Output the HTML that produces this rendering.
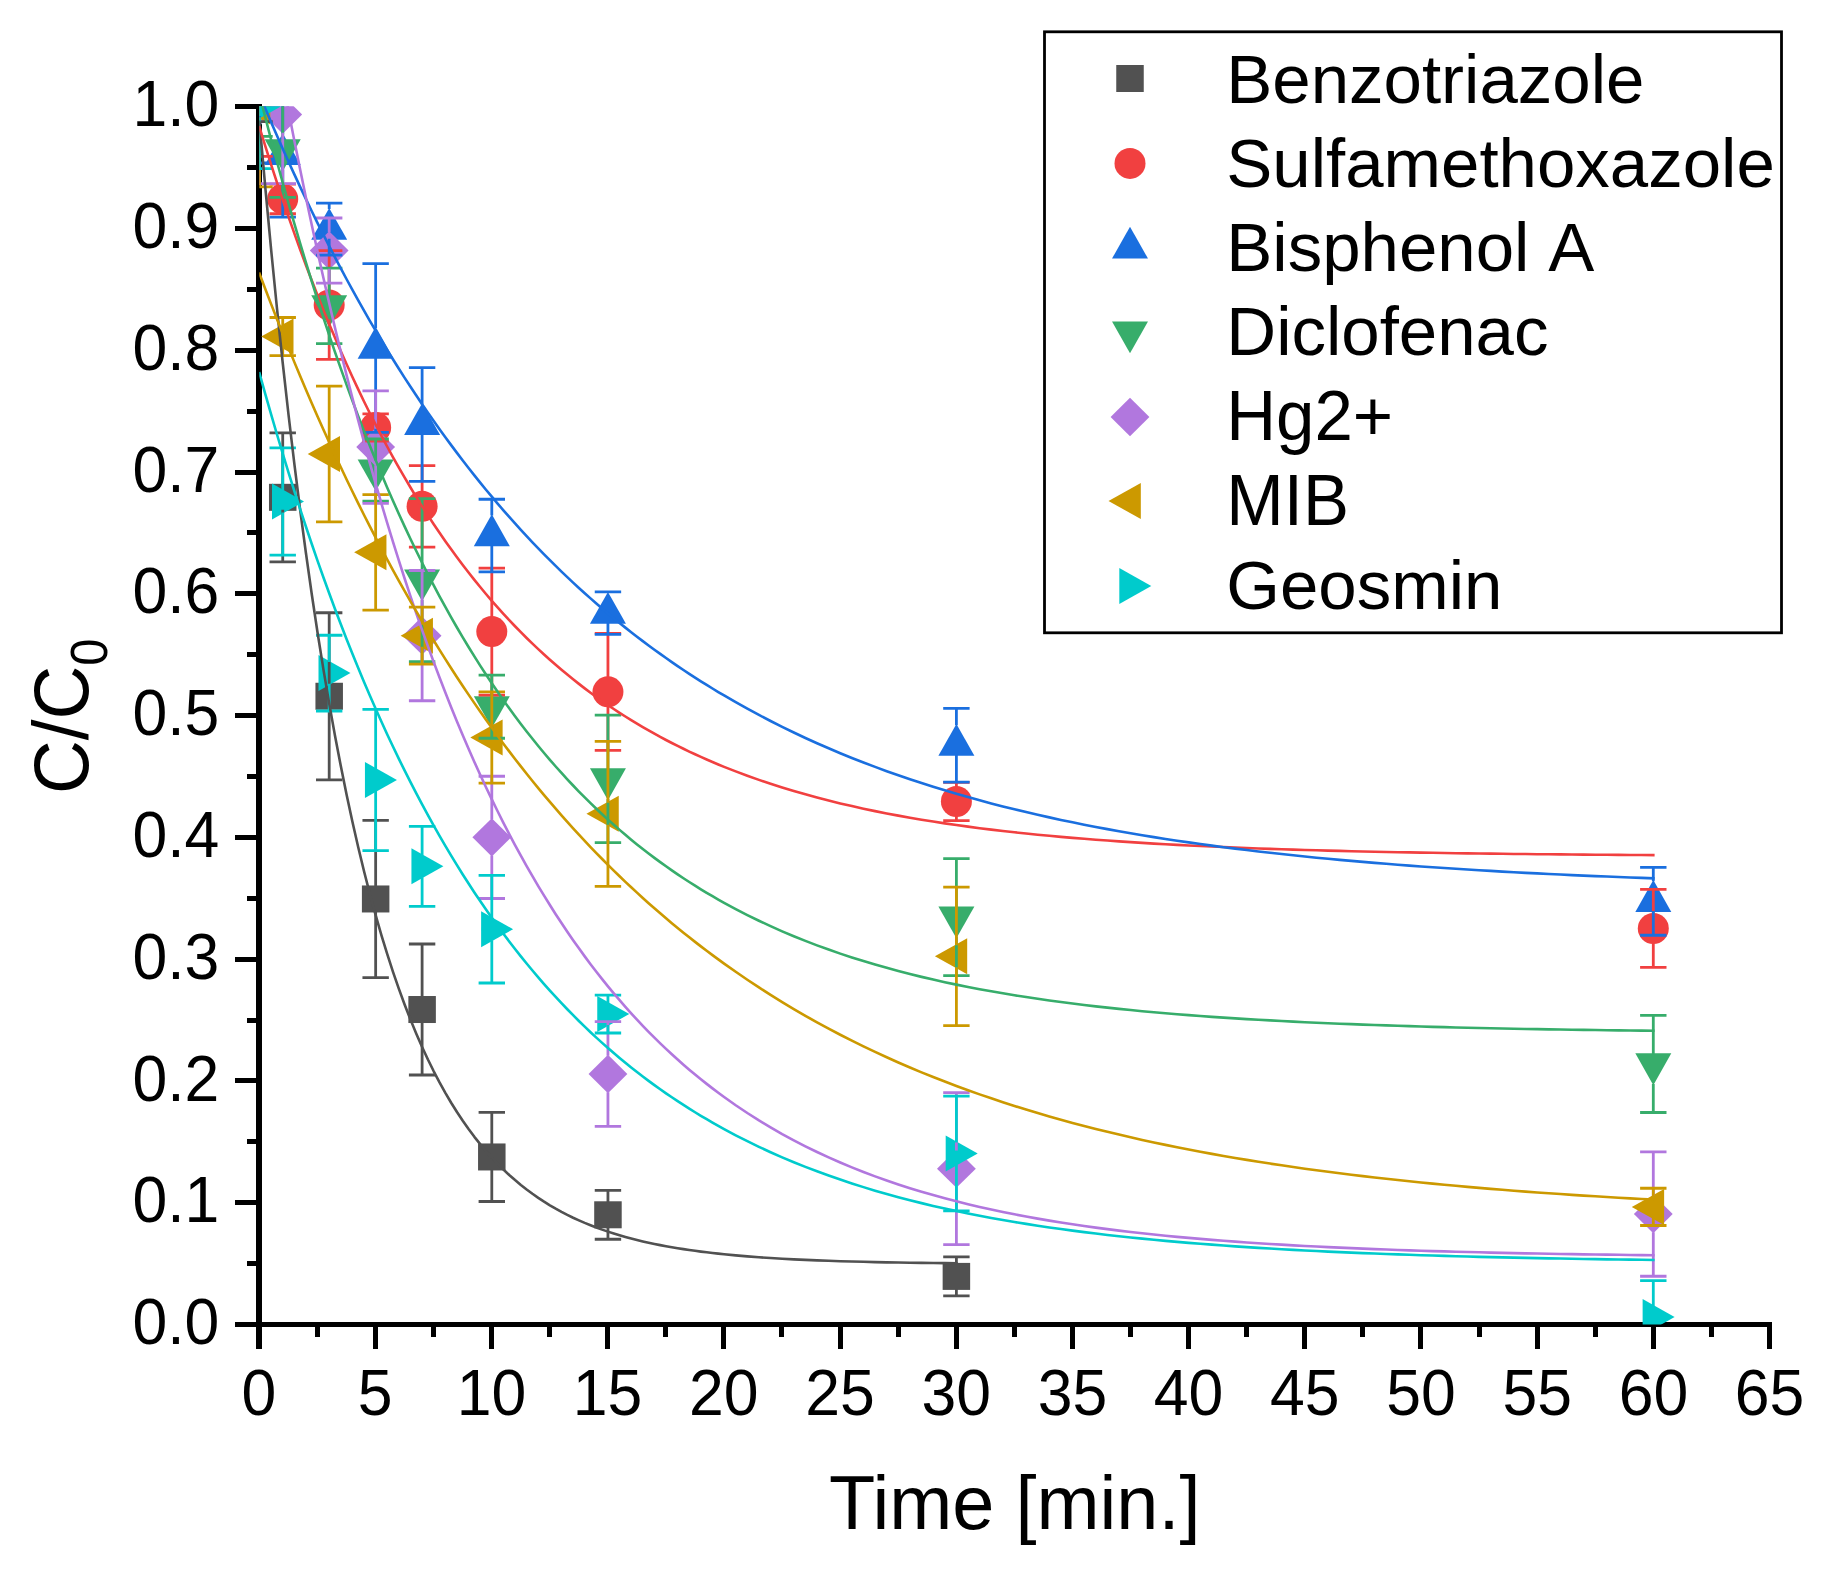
<!DOCTYPE html>
<html><head><meta charset="utf-8"><title>C/C0 vs Time</title>
<style>html,body{margin:0;padding:0;background:#fff}svg{display:block}text{font-family:"Liberation Sans",Arial,sans-serif;fill:#000}</style>
</head><body>
<svg width="1829" height="1571" viewBox="0 0 1829 1571">
<rect width="1829" height="1571" fill="#fff"/>
<defs><clipPath id="pc"><rect x="259.3" y="106.3" width="1512.7" height="1218.3"/></clipPath></defs>

<g fill="#000" shape-rendering="crispEdges">
<rect x="256" y="104" width="6" height="1245"/>
<rect x="235" y="1322" width="1537" height="5"/>
<rect x="373" y="1322" width="5" height="27"/>
<rect x="489" y="1322" width="5" height="27"/>
<rect x="605" y="1322" width="5" height="27"/>
<rect x="721" y="1322" width="5" height="27"/>
<rect x="838" y="1322" width="5" height="27"/>
<rect x="954" y="1322" width="5" height="27"/>
<rect x="1070" y="1322" width="5" height="27"/>
<rect x="1186" y="1322" width="5" height="27"/>
<rect x="1302" y="1322" width="5" height="27"/>
<rect x="1418" y="1322" width="5" height="27"/>
<rect x="1535" y="1322" width="5" height="27"/>
<rect x="1651" y="1322" width="5" height="27"/>
<rect x="1767" y="1322" width="5" height="27"/>
<rect x="315" y="1322" width="5" height="15"/>
<rect x="431" y="1322" width="5" height="15"/>
<rect x="547" y="1322" width="5" height="15"/>
<rect x="663" y="1322" width="5" height="15"/>
<rect x="779" y="1322" width="5" height="15"/>
<rect x="896" y="1322" width="5" height="15"/>
<rect x="1012" y="1322" width="5" height="15"/>
<rect x="1128" y="1322" width="5" height="15"/>
<rect x="1244" y="1322" width="5" height="15"/>
<rect x="1360" y="1322" width="5" height="15"/>
<rect x="1477" y="1322" width="5" height="15"/>
<rect x="1593" y="1322" width="5" height="15"/>
<rect x="1709" y="1322" width="5" height="15"/>
<rect x="235" y="1200" width="24" height="5"/>
<rect x="235" y="1078" width="24" height="5"/>
<rect x="235" y="957" width="24" height="5"/>
<rect x="235" y="835" width="24" height="5"/>
<rect x="235" y="713" width="24" height="5"/>
<rect x="235" y="591" width="24" height="5"/>
<rect x="235" y="470" width="24" height="5"/>
<rect x="235" y="348" width="24" height="5"/>
<rect x="235" y="226" width="24" height="5"/>
<rect x="235" y="104" width="24" height="5"/>
<rect x="247" y="1261" width="12" height="5"/>
<rect x="247" y="1139" width="12" height="5"/>
<rect x="247" y="1018" width="12" height="5"/>
<rect x="247" y="896" width="12" height="5"/>
<rect x="247" y="774" width="12" height="5"/>
<rect x="247" y="652" width="12" height="5"/>
<rect x="247" y="530" width="12" height="5"/>
<rect x="247" y="409" width="12" height="5"/>
<rect x="247" y="287" width="12" height="5"/>
<rect x="247" y="165" width="12" height="5"/>
</g>
<g clip-path="url(#pc)">
<rect x="245.75" y="93" width="27.5" height="27" fill="#515151"/>
<rect x="268.98" y="483.82" width="27.5" height="27" fill="#515151"/>
<rect x="315.44" y="682.76" width="27.5" height="27" fill="#515151"/>
<rect x="361.9" y="885.47" width="27.5" height="27" fill="#515151"/>
<rect x="408.36" y="996.02" width="27.5" height="27" fill="#515151"/>
<rect x="478.05" y="1143.46" width="27.5" height="27" fill="#515151"/>
<rect x="594.2" y="1201.29" width="27.5" height="27" fill="#515151"/>
<rect x="942.65" y="1262.9" width="27.5" height="27" fill="#515151"/>
<circle cx="259.5" cy="106.5" r="15.5" fill="#F14040"/>
<circle cx="282.73" cy="198.91" r="15.5" fill="#F14040"/>
<circle cx="329.19" cy="304.95" r="15.5" fill="#F14040"/>
<circle cx="375.65" cy="427.55" r="15.5" fill="#F14040"/>
<circle cx="422.11" cy="506.33" r="15.5" fill="#F14040"/>
<circle cx="491.8" cy="631.61" r="15.5" fill="#F14040"/>
<circle cx="607.95" cy="691.87" r="15.5" fill="#F14040"/>
<circle cx="956.4" cy="801.57" r="15.5" fill="#F14040"/>
<circle cx="1653.3" cy="928.43" r="15.5" fill="#F14040"/>
<polygon points="241.5,117.1 277.5,117.1 259.5,85.3" fill="#1A6FDF"/>
<polygon points="264.73,164.95 300.73,164.95 282.73,133.15" fill="#1A6FDF"/>
<polygon points="311.19,239.7 347.19,239.7 329.19,207.9" fill="#1A6FDF"/>
<polygon points="357.65,358.65 393.65,358.65 375.65,326.85" fill="#1A6FDF"/>
<polygon points="404.11,435.11 440.11,435.11 422.11,403.31" fill="#1A6FDF"/>
<polygon points="473.8,546.15 509.8,546.15 491.8,514.35" fill="#1A6FDF"/>
<polygon points="589.95,623.7 625.95,623.7 607.95,591.9" fill="#1A6FDF"/>
<polygon points="938.4,755.8 974.4,755.8 956.4,724" fill="#1A6FDF"/>
<polygon points="1635.3,911.88 1671.3,911.88 1653.3,880.08" fill="#1A6FDF"/>
<polygon points="241.5,95.9 277.5,95.9 259.5,127.7" fill="#37AD6B"/>
<polygon points="264.73,139.36 300.73,139.36 282.73,171.16" fill="#37AD6B"/>
<polygon points="311.19,295.33 347.19,295.33 329.19,327.13" fill="#37AD6B"/>
<polygon points="357.65,459.45 393.65,459.45 375.65,491.25" fill="#37AD6B"/>
<polygon points="404.11,569.51 440.11,569.51 422.11,601.31" fill="#37AD6B"/>
<polygon points="473.8,696.13 509.8,696.13 491.8,727.93" fill="#37AD6B"/>
<polygon points="589.95,768.33 625.95,768.33 607.95,800.13" fill="#37AD6B"/>
<polygon points="938.4,906.51 974.4,906.51 956.4,938.31" fill="#37AD6B"/>
<polygon points="1635.3,1053.34 1671.3,1053.34 1653.3,1085.14" fill="#37AD6B"/>
<polygon points="240.1,106.5 259.5,87.3 278.9,106.5 259.5,125.7" fill="#B177DE"/>
<polygon points="263.33,114.54 282.73,95.34 302.13,114.54 282.73,133.74" fill="#B177DE"/>
<polygon points="309.79,250.53 329.19,231.33 348.59,250.53 329.19,269.73" fill="#B177DE"/>
<polygon points="356.25,447.03 375.65,427.83 395.05,447.03 375.65,466.23" fill="#B177DE"/>
<polygon points="402.71,635.63 422.11,616.43 441.51,635.63 422.11,654.83" fill="#B177DE"/>
<polygon points="472.4,837.37 491.8,818.17 511.2,837.37 491.8,856.57" fill="#B177DE"/>
<polygon points="588.55,1074.05 607.95,1054.85 627.35,1074.05 607.95,1093.25" fill="#B177DE"/>
<polygon points="937,1168.65 956.4,1149.45 975.8,1168.65 956.4,1187.85" fill="#B177DE"/>
<polygon points="1633.9,1214.06 1653.3,1194.86 1672.7,1214.06 1653.3,1233.26" fill="#B177DE"/>
<polygon points="238,106.5 270.3,88.5 270.3,124.5" fill="#CC9900"/>
<polygon points="261.23,336.61 293.53,318.61 293.53,354.61" fill="#CC9900"/>
<polygon points="307.69,453.97 339.99,435.97 339.99,471.97" fill="#CC9900"/>
<polygon points="354.15,552.35 386.45,534.35 386.45,570.35" fill="#CC9900"/>
<polygon points="400.61,635.63 432.91,617.63 432.91,653.63" fill="#CC9900"/>
<polygon points="470.3,737.53 502.6,719.53 502.6,755.53" fill="#CC9900"/>
<polygon points="586.45,813.87 618.75,795.87 618.75,831.87" fill="#CC9900"/>
<polygon points="934.9,956.32 967.2,938.32 967.2,974.32" fill="#CC9900"/>
<polygon points="1631.8,1206.88 1664.1,1188.88 1664.1,1224.88" fill="#CC9900"/>
<polygon points="280.8,106.5 248.8,88.5 248.8,124.5" fill="#00CBCC"/>
<polygon points="304.03,501.46 272.03,483.46 272.03,519.46" fill="#00CBCC"/>
<polygon points="350.49,673.12 318.49,655.12 318.49,691.12" fill="#00CBCC"/>
<polygon points="396.95,780.02 364.95,762.02 364.95,798.02" fill="#00CBCC"/>
<polygon points="443.41,866.34 411.41,848.34 411.41,884.34" fill="#00CBCC"/>
<polygon points="513.1,929.16 481.1,911.16 481.1,947.16" fill="#00CBCC"/>
<polygon points="629.25,1014.02 597.25,996.02 597.25,1032.02" fill="#00CBCC"/>
<polygon points="977.7,1153.55 945.7,1135.55 945.7,1171.55" fill="#00CBCC"/>
<polygon points="1674.6,1317.06 1642.6,1299.06 1642.6,1335.06" fill="#00CBCC"/>
<path d="M246.3 91.28H272.7M246.3 121.72H272.7M259.5 91.28V94M259.5 119V121.72M269.53 432.79H295.93M269.53 561.85H295.93M282.73 432.79V484.82M282.73 509.82V561.85M315.99 612.74H342.39M315.99 779.78H342.39M329.19 612.74V683.76M329.19 708.76V779.78M362.45 820.32H388.85M362.45 977.62H388.85M375.65 820.32V886.47M375.65 911.47V977.62M408.91 944.02H435.31M408.91 1075.02H435.31M422.11 944.02V997.02M422.11 1022.02V1075.02M478.6 1112.4H505M478.6 1201.52H505M491.8 1112.4V1144.46M491.8 1169.46V1201.52M594.75 1190.32H621.15M594.75 1239.26H621.15M607.95 1190.32V1202.29M607.95 1227.29V1239.26M943.2 1256.92H969.6M943.2 1295.88H969.6M956.4 1256.92V1263.9M956.4 1288.9V1295.88" stroke="#515151" stroke-width="2.8" fill="none"/>
<path d="M246.3 56.58H272.7M246.3 156.42H272.7M259.5 56.58V92M259.5 121V156.42M269.53 184.05H295.93M269.53 213.76H295.93M282.73 184.05V184.41M282.73 213.41V213.76M315.99 250.53H342.39M315.99 359.37H342.39M329.19 250.53V290.45M329.19 319.45V359.37M362.45 413.92H388.85M362.45 441.19H388.85M408.91 465.54H435.31M408.91 547.11H435.31M422.11 465.54V491.83M422.11 520.83V547.11M478.6 568.18H505M478.6 695.04H505M491.8 568.18V617.11M491.8 646.11V695.04M594.75 633.43H621.15M594.75 750.31H621.15M607.95 633.43V677.37M607.95 706.37V750.31M943.2 782.46H969.6M943.2 820.69H969.6M956.4 782.46V787.07M956.4 816.07V820.69M1640.1 889.47H1666.5M1640.1 967.39H1666.5M1653.3 889.47V913.93M1653.3 942.93V967.39" stroke="#F14040" stroke-width="2.8" fill="none"/>
<path d="M246.3 50.01H272.7M246.3 162.99H272.7M259.5 50.01V86.5M259.5 116.1V162.99M269.53 91.65H295.93M269.53 217.05H295.93M282.73 91.65V134.35M282.73 163.95V217.05M315.99 203.17H342.39M315.99 255.03H342.39M329.19 203.17V209.1M329.19 238.7V255.03M362.45 263.68H388.85M362.45 432.42H388.85M375.65 263.68V328.05M375.65 357.65V432.42M408.91 367.65H435.31M408.91 481.37H435.31M422.11 367.65V404.51M422.11 434.11V481.37M478.6 499.27H505M478.6 571.83H505M491.8 499.27V515.55M491.8 545.15V571.83M594.75 591.8H621.15M594.75 634.41H621.15M607.95 591.8V593.1M607.95 622.7V634.41M943.2 708.31H969.6M943.2 782.09H969.6M956.4 708.31V725.2M956.4 754.8V782.09M1640.1 867.32H1666.5M1640.1 935.25H1666.5M1653.3 867.32V881.28M1653.3 910.88V935.25" stroke="#1A6FDF" stroke-width="2.8" fill="none"/>
<path d="M246.3 76.67H272.7M246.3 136.33H272.7M259.5 76.67V96.9M259.5 126.5V136.33M269.53 102.48H295.93M269.53 197.45H295.93M282.73 102.48V140.36M282.73 169.96V197.45M315.99 268.18H342.39M315.99 343.67H342.39M329.19 268.18V296.33M329.19 325.93V343.67M362.45 439H388.85M362.45 501.09H388.85M375.65 439V460.45M375.65 490.05V501.09M408.91 498.66H435.31M408.91 661.56H435.31M422.11 498.66V570.51M422.11 600.11V661.56M478.6 675.19H505M478.6 738.26H505M491.8 675.19V697.13M491.8 726.73V738.26M594.75 715.13H621.15M594.75 842.72H621.15M607.95 715.13V769.33M607.95 798.93V842.72M943.2 858.67H969.6M943.2 975.55H969.6M956.4 858.67V907.51M956.4 937.11V975.55M1640.1 1015.36H1666.5M1640.1 1112.52H1666.5M1653.3 1015.36V1054.34M1653.3 1083.94V1112.52" stroke="#37AD6B" stroke-width="2.8" fill="none"/>
<path d="M246.3 29.31H272.7M246.3 183.69H272.7M259.5 29.31V88.3M259.5 124.7V183.69M269.53 45.5H295.93M269.53 183.57H295.93M282.73 45.5V96.34M282.73 132.74V183.57M315.99 218.02H342.39M315.99 283.04H342.39M329.19 218.02V232.33M329.19 268.73V283.04M362.45 390.79H388.85M362.45 503.28H388.85M375.65 390.79V428.83M375.65 465.23V503.28M408.91 570.49H435.31M408.91 700.76H435.31M422.11 570.49V617.43M422.11 653.83V700.76M478.6 776.25H505M478.6 898.48H505M491.8 776.25V819.17M491.8 855.57V898.48M594.75 1021.69H621.15M594.75 1126.4H621.15M607.95 1021.69V1055.85M607.95 1092.25V1126.4M943.2 1092.67H969.6M943.2 1244.62H969.6M956.4 1092.67V1150.45M956.4 1186.85V1244.62M1640.1 1151.85H1666.5M1640.1 1276.27H1666.5M1653.3 1151.85V1195.86M1653.3 1232.26V1276.27" stroke="#B177DE" stroke-width="2.8" fill="none"/>
<path d="M246.3 26.14H272.7M246.3 186.86H272.7M259.5 26.14V95.5M259.5 117.5V186.86M269.53 317.49H295.93M269.53 355.72H295.93M282.73 317.49V325.61M282.73 347.61V355.72M315.99 386.04H342.39M315.99 521.91H342.39M329.19 386.04V442.97M329.19 464.97V521.91M362.45 494.64H388.85M362.45 610.06H388.85M375.65 494.64V541.35M375.65 563.35V610.06M408.91 607.14H435.31M408.91 664.12H435.31M422.11 607.14V624.63M422.11 646.63V664.12M478.6 691.87H505M478.6 783.19H505M491.8 691.87V726.53M491.8 748.53V783.19M594.75 741.3H621.15M594.75 886.43H621.15M607.95 741.3V802.87M607.95 824.87V886.43M943.2 887.04H969.6M943.2 1025.59H969.6M956.4 887.04V945.32M956.4 967.32V1025.59M1640.1 1188.25H1666.5M1640.1 1225.5H1666.5M1653.3 1188.25V1195.88M1653.3 1217.88V1225.5" stroke="#CC9900" stroke-width="2.8" fill="none"/>
<path d="M246.3 44.41H272.7M246.3 168.59H272.7M259.5 44.41V95.5M259.5 117.5V168.59M269.53 447.89H295.93M269.53 555.03H295.93M282.73 447.89V490.46M282.73 512.46V555.03M315.99 635.26H342.39M315.99 710.99H342.39M329.19 635.26V662.12M329.19 684.12V710.99M362.45 709.41H388.85M362.45 850.64H388.85M375.65 709.41V769.02M375.65 791.02V850.64M408.91 826.41H435.31M408.91 906.28H435.31M422.11 826.41V855.34M422.11 877.34V906.28M478.6 875.35H505M478.6 982.98H505M491.8 875.35V918.16M491.8 940.16V982.98M594.75 995.03H621.15M594.75 1033.02H621.15M607.95 995.03V1003.02M607.95 1025.02V1033.02M943.2 1096.21H969.6M943.2 1210.89H969.6M956.4 1096.21V1142.55M956.4 1164.55V1210.89M1640.1 1280.54H1666.5M1640.1 1353.59H1666.5M1653.3 1280.54V1306.06M1653.3 1328.06V1353.59" stroke="#00CBCC" stroke-width="2.8" fill="none"/>
<path d="M259.5 121.84 L265.31 187.6 L271.12 249.57 L276.92 307.97 L282.73 363.01 L288.54 414.89 L294.35 463.78 L300.15 509.85 L305.96 553.27 L311.77 594.2 L317.57 632.76 L323.38 669.11 L329.19 703.37 L335 735.65 L340.81 766.07 L346.61 794.75 L352.42 821.77 L358.23 847.24 L364.03 871.24 L369.84 893.86 L375.65 915.18 L381.46 935.27 L387.26 954.2 L393.07 972.05 L398.88 988.87 L404.69 1004.72 L410.5 1019.65 L416.3 1033.73 L422.11 1047 L427.92 1059.5 L433.73 1071.29 L439.53 1082.39 L445.34 1092.86 L451.15 1102.72 L456.96 1112.02 L462.76 1120.78 L468.57 1129.03 L474.38 1136.82 L480.19 1144.15 L485.99 1151.06 L491.8 1157.57 L497.61 1163.71 L503.41 1169.5 L509.22 1174.95 L515.03 1180.09 L520.84 1184.93 L526.64 1189.5 L532.45 1193.8 L538.26 1197.85 L544.07 1201.67 L549.88 1205.27 L555.68 1208.66 L561.49 1211.86 L567.3 1214.88 L573.11 1217.72 L578.91 1220.39 L584.72 1222.92 L590.53 1225.29 L596.34 1227.53 L602.14 1229.65 L607.95 1231.64 L613.76 1233.51 L619.57 1235.28 L625.37 1236.95 L631.18 1238.52 L636.99 1239.99 L642.8 1241.39 L648.6 1242.7 L654.41 1243.94 L660.22 1245.11 L666.03 1246.21 L671.83 1247.25 L677.64 1248.22 L683.45 1249.14 L689.25 1250.01 L695.06 1250.83 L700.87 1251.6 L706.68 1252.33 L712.49 1253.01 L718.29 1253.66 L724.1 1254.26 L735.72 1255.38 L747.33 1256.37 L758.94 1257.24 L770.56 1258.02 L782.17 1258.72 L793.79 1259.33 L805.4 1259.88 L817.02 1260.36 L828.63 1260.8 L840.25 1261.18 L851.87 1261.52 L863.48 1261.82 L875.1 1262.09 L886.71 1262.33 L898.33 1262.54 L909.94 1262.73 L921.56 1262.89 L933.17 1263.04 L944.78 1263.17 L956.4 1263.29" stroke="#515151" stroke-width="2.6" fill="none" stroke-linejoin="round" stroke-linecap="square"/>
<path d="M259.5 127.32 L265.31 146.18 L271.12 164.54 L276.92 182.44 L282.73 199.87 L288.54 216.85 L294.35 233.39 L300.15 249.5 L305.96 265.2 L311.77 280.49 L317.57 295.38 L323.38 309.89 L329.19 324.03 L335 337.8 L340.81 351.21 L346.61 364.28 L352.42 377 L358.23 389.4 L364.03 401.48 L369.84 413.25 L375.65 424.71 L381.46 435.87 L387.26 446.75 L393.07 457.35 L398.88 467.67 L404.69 477.72 L410.5 487.52 L416.3 497.06 L422.11 506.35 L427.92 515.41 L433.73 524.23 L439.53 532.82 L445.34 541.19 L451.15 549.34 L456.96 557.28 L462.76 565.02 L468.57 572.56 L474.38 579.9 L480.19 587.05 L485.99 594.02 L491.8 600.81 L497.61 607.42 L503.41 613.86 L509.22 620.13 L515.03 626.25 L520.84 632.2 L526.64 638 L532.45 643.65 L538.26 649.15 L544.07 654.51 L549.88 659.74 L555.68 664.83 L561.49 669.78 L567.3 674.61 L573.11 679.31 L578.91 683.89 L584.72 688.36 L590.53 692.7 L596.34 696.94 L602.14 701.07 L607.95 705.08 L613.76 709 L619.57 712.81 L625.37 716.53 L631.18 720.15 L636.99 723.67 L642.8 727.11 L648.6 730.45 L654.41 733.71 L660.22 736.89 L666.03 739.98 L671.83 742.99 L677.64 745.93 L683.45 748.79 L689.25 751.57 L695.06 754.28 L700.87 756.93 L706.68 759.5 L712.49 762.01 L718.29 764.45 L724.1 766.83 L735.72 771.41 L747.33 775.75 L758.94 779.87 L770.56 783.78 L782.17 787.49 L793.79 791.02 L805.4 794.36 L817.02 797.53 L828.63 800.54 L840.25 803.39 L851.87 806.1 L863.48 808.68 L875.1 811.12 L886.71 813.43 L898.33 815.63 L909.94 817.72 L921.56 819.69 L933.17 821.57 L944.78 823.35 L956.4 825.05 L968.01 826.65 L979.63 828.17 L991.25 829.62 L1002.86 830.99 L1014.48 832.29 L1026.09 833.53 L1037.7 834.7 L1049.32 835.81 L1060.93 836.86 L1072.55 837.87 L1084.16 838.82 L1095.78 839.72 L1107.39 840.57 L1119.01 841.39 L1130.62 842.16 L1142.24 842.89 L1153.86 843.58 L1165.47 844.24 L1177.09 844.86 L1188.7 845.46 L1200.32 846.02 L1211.93 846.55 L1223.55 847.06 L1235.16 847.54 L1246.78 848 L1258.39 848.43 L1270.01 848.84 L1281.62 849.23 L1293.24 849.6 L1304.85 849.95 L1316.46 850.29 L1328.08 850.6 L1339.69 850.9 L1351.31 851.19 L1362.92 851.46 L1374.54 851.71 L1386.15 851.96 L1397.77 852.19 L1409.38 852.41 L1421 852.62 L1432.62 852.81 L1444.23 853 L1455.85 853.18 L1467.46 853.35 L1479.08 853.51 L1490.69 853.66 L1502.31 853.8 L1513.92 853.94 L1525.54 854.07 L1537.15 854.19 L1548.77 854.31 L1560.38 854.42 L1572 854.52 L1583.61 854.62 L1595.23 854.72 L1606.84 854.81 L1618.45 854.89 L1630.07 854.98 L1641.68 855.05 L1653.3 855.12" stroke="#F14040" stroke-width="2.6" fill="none" stroke-linejoin="round" stroke-linecap="square"/>
<path d="M259.5 94.69 L265.31 108.57 L271.12 122.2 L276.92 135.6 L282.73 148.76 L288.54 161.7 L294.35 174.41 L300.15 186.89 L305.96 199.16 L311.77 211.22 L317.57 223.06 L323.38 234.7 L329.19 246.13 L335 257.37 L340.81 268.4 L346.61 279.25 L352.42 289.91 L358.23 300.38 L364.03 310.67 L369.84 320.78 L375.65 330.71 L381.46 340.47 L387.26 350.06 L393.07 359.48 L398.88 368.73 L404.69 377.83 L410.5 386.77 L416.3 395.55 L422.11 404.17 L427.92 412.65 L433.73 420.98 L439.53 429.16 L445.34 437.2 L451.15 445.11 L456.96 452.87 L462.76 460.5 L468.57 467.99 L474.38 475.35 L480.19 482.59 L485.99 489.7 L491.8 496.68 L497.61 503.54 L503.41 510.29 L509.22 516.91 L515.03 523.42 L520.84 529.82 L526.64 536.1 L532.45 542.28 L538.26 548.34 L544.07 554.31 L549.88 560.16 L555.68 565.92 L561.49 571.57 L567.3 577.13 L573.11 582.59 L578.91 587.95 L584.72 593.22 L590.53 598.4 L596.34 603.49 L602.14 608.49 L607.95 613.4 L613.76 618.22 L619.57 622.97 L625.37 627.62 L631.18 632.2 L636.99 636.7 L642.8 641.12 L648.6 645.46 L654.41 649.73 L660.22 653.92 L666.03 658.04 L671.83 662.09 L677.64 666.06 L683.45 669.97 L689.25 673.81 L695.06 677.58 L700.87 681.29 L706.68 684.93 L712.49 688.51 L718.29 692.02 L724.1 695.48 L735.72 702.2 L747.33 708.7 L758.94 714.97 L770.56 721.02 L782.17 726.87 L793.79 732.51 L805.4 737.96 L817.02 743.22 L828.63 748.29 L840.25 753.19 L851.87 757.93 L863.48 762.49 L875.1 766.9 L886.71 771.16 L898.33 775.27 L909.94 779.24 L921.56 783.07 L933.17 786.77 L944.78 790.34 L956.4 793.78 L968.01 797.11 L979.63 800.32 L991.25 803.42 L1002.86 806.42 L1014.48 809.31 L1026.09 812.1 L1037.7 814.79 L1049.32 817.39 L1060.93 819.9 L1072.55 822.33 L1084.16 824.67 L1095.78 826.93 L1107.39 829.11 L1119.01 831.21 L1130.62 833.24 L1142.24 835.21 L1153.86 837.1 L1165.47 838.93 L1177.09 840.69 L1188.7 842.4 L1200.32 844.04 L1211.93 845.63 L1223.55 847.17 L1235.16 848.65 L1246.78 850.08 L1258.39 851.46 L1270.01 852.79 L1281.62 854.07 L1293.24 855.32 L1304.85 856.51 L1316.46 857.67 L1328.08 858.79 L1339.69 859.87 L1351.31 860.91 L1362.92 861.91 L1374.54 862.88 L1386.15 863.82 L1397.77 864.72 L1409.38 865.6 L1421 866.44 L1432.62 867.25 L1444.23 868.04 L1455.85 868.8 L1467.46 869.53 L1479.08 870.24 L1490.69 870.92 L1502.31 871.58 L1513.92 872.21 L1525.54 872.83 L1537.15 873.42 L1548.77 873.99 L1560.38 874.55 L1572 875.08 L1583.61 875.59 L1595.23 876.09 L1606.84 876.57 L1618.45 877.03 L1630.07 877.48 L1641.68 877.91 L1653.3 878.33" stroke="#1A6FDF" stroke-width="2.6" fill="none" stroke-linejoin="round" stroke-linecap="square"/>
<path d="M259.5 94.57 L265.31 117.44 L271.12 139.76 L276.92 161.53 L282.73 182.77 L288.54 203.49 L294.35 223.71 L300.15 243.43 L305.96 262.68 L311.77 281.45 L317.57 299.77 L323.38 317.65 L329.19 335.08 L335 352.09 L340.81 368.69 L346.61 384.88 L352.42 400.68 L358.23 416.1 L364.03 431.13 L369.84 445.81 L375.65 460.12 L381.46 474.08 L387.26 487.71 L393.07 501 L398.88 513.97 L404.69 526.62 L410.5 538.97 L416.3 551.01 L422.11 562.76 L427.92 574.23 L433.73 585.41 L439.53 596.32 L445.34 606.97 L451.15 617.36 L456.96 627.49 L462.76 637.38 L468.57 647.02 L474.38 656.44 L480.19 665.62 L485.99 674.58 L491.8 683.31 L497.61 691.84 L503.41 700.16 L509.22 708.28 L515.03 716.2 L520.84 723.92 L526.64 731.46 L532.45 738.81 L538.26 745.99 L544.07 752.99 L549.88 759.82 L555.68 766.48 L561.49 772.98 L567.3 779.32 L573.11 785.51 L578.91 791.55 L584.72 797.43 L590.53 803.18 L596.34 808.79 L602.14 814.26 L607.95 819.59 L613.76 824.8 L619.57 829.88 L625.37 834.83 L631.18 839.67 L636.99 844.39 L642.8 848.99 L648.6 853.48 L654.41 857.86 L660.22 862.13 L666.03 866.3 L671.83 870.37 L677.64 874.34 L683.45 878.21 L689.25 881.99 L695.06 885.68 L700.87 889.27 L706.68 892.78 L712.49 896.2 L718.29 899.54 L724.1 902.8 L735.72 909.08 L747.33 915.06 L758.94 920.75 L770.56 926.16 L782.17 931.32 L793.79 936.23 L805.4 940.9 L817.02 945.34 L828.63 949.58 L840.25 953.61 L851.87 957.44 L863.48 961.09 L875.1 964.56 L886.71 967.87 L898.33 971.02 L909.94 974.01 L921.56 976.87 L933.17 979.58 L944.78 982.17 L956.4 984.63 L968.01 986.97 L979.63 989.19 L991.25 991.32 L1002.86 993.34 L1014.48 995.26 L1026.09 997.09 L1037.7 998.83 L1049.32 1000.49 L1060.93 1002.06 L1072.55 1003.57 L1084.16 1004.99 L1095.78 1006.36 L1107.39 1007.65 L1119.01 1008.88 L1130.62 1010.06 L1142.24 1011.17 L1153.86 1012.24 L1165.47 1013.25 L1177.09 1014.21 L1188.7 1015.13 L1200.32 1016 L1211.93 1016.83 L1223.55 1017.62 L1235.16 1018.38 L1246.78 1019.09 L1258.39 1019.78 L1270.01 1020.42 L1281.62 1021.04 L1293.24 1021.63 L1304.85 1022.19 L1316.46 1022.72 L1328.08 1023.23 L1339.69 1023.71 L1351.31 1024.17 L1362.92 1024.61 L1374.54 1025.03 L1386.15 1025.42 L1397.77 1025.8 L1409.38 1026.16 L1421 1026.5 L1432.62 1026.83 L1444.23 1027.14 L1455.85 1027.43 L1467.46 1027.71 L1479.08 1027.98 L1490.69 1028.23 L1502.31 1028.48 L1513.92 1028.71 L1525.54 1028.93 L1537.15 1029.13 L1548.77 1029.33 L1560.38 1029.52 L1572 1029.7 L1583.61 1029.87 L1595.23 1030.04 L1606.84 1030.19 L1618.45 1030.34 L1630.07 1030.48 L1641.68 1030.61 L1653.3 1030.74" stroke="#37AD6B" stroke-width="2.6" fill="none" stroke-linejoin="round" stroke-linecap="square"/>
<path d="M259.5 -49.58 L265.31 -15.77 L271.12 17.17 L276.92 49.26 L282.73 80.52 L288.54 110.96 L294.35 140.63 L300.15 169.52 L305.96 197.67 L311.77 225.09 L317.57 251.8 L323.38 277.81 L329.19 303.16 L335 327.85 L340.81 351.9 L346.61 375.33 L352.42 398.15 L358.23 420.39 L364.03 442.04 L369.84 463.14 L375.65 483.69 L381.46 503.71 L387.26 523.21 L393.07 542.21 L398.88 560.72 L404.69 578.75 L410.5 596.31 L416.3 613.41 L422.11 630.08 L427.92 646.31 L433.73 662.13 L439.53 677.53 L445.34 692.54 L451.15 707.15 L456.96 721.39 L462.76 735.26 L468.57 748.78 L474.38 761.94 L480.19 774.76 L485.99 787.25 L491.8 799.42 L497.61 811.27 L503.41 822.82 L509.22 834.07 L515.03 845.03 L520.84 855.7 L526.64 866.1 L532.45 876.22 L538.26 886.09 L544.07 895.7 L549.88 905.06 L555.68 914.18 L561.49 923.07 L567.3 931.72 L573.11 940.15 L578.91 948.37 L584.72 956.37 L590.53 964.16 L596.34 971.75 L602.14 979.15 L607.95 986.35 L613.76 993.37 L619.57 1000.21 L625.37 1006.86 L631.18 1013.35 L636.99 1019.67 L642.8 1025.83 L648.6 1031.82 L654.41 1037.66 L660.22 1043.35 L666.03 1048.9 L671.83 1054.3 L677.64 1059.56 L683.45 1064.68 L689.25 1069.67 L695.06 1074.54 L700.87 1079.27 L706.68 1083.89 L712.49 1088.38 L718.29 1092.76 L724.1 1097.02 L735.72 1105.23 L747.33 1113.01 L758.94 1120.4 L770.56 1127.4 L782.17 1134.06 L793.79 1140.37 L805.4 1146.36 L817.02 1152.04 L828.63 1157.43 L840.25 1162.55 L851.87 1167.41 L863.48 1172.01 L875.1 1176.39 L886.71 1180.54 L898.33 1184.47 L909.94 1188.21 L921.56 1191.76 L933.17 1195.12 L944.78 1198.31 L956.4 1201.34 L968.01 1204.22 L979.63 1206.95 L991.25 1209.54 L1002.86 1211.99 L1014.48 1214.32 L1026.09 1216.54 L1037.7 1218.64 L1049.32 1220.63 L1060.93 1222.52 L1072.55 1224.31 L1084.16 1226.01 L1095.78 1227.63 L1107.39 1229.16 L1119.01 1230.62 L1130.62 1232 L1142.24 1233.31 L1153.86 1234.55 L1165.47 1235.73 L1177.09 1236.85 L1188.7 1237.91 L1200.32 1238.92 L1211.93 1239.87 L1223.55 1240.78 L1235.16 1241.64 L1246.78 1242.46 L1258.39 1243.24 L1270.01 1243.97 L1281.62 1244.67 L1293.24 1245.33 L1304.85 1245.96 L1316.46 1246.56 L1328.08 1247.12 L1339.69 1247.66 L1351.31 1248.17 L1362.92 1248.66 L1374.54 1249.11 L1386.15 1249.55 L1397.77 1249.96 L1409.38 1250.36 L1421 1250.73 L1432.62 1251.08 L1444.23 1251.42 L1455.85 1251.73 L1467.46 1252.04 L1479.08 1252.32 L1490.69 1252.59 L1502.31 1252.85 L1513.92 1253.1 L1525.54 1253.33 L1537.15 1253.55 L1548.77 1253.76 L1560.38 1253.96 L1572 1254.15 L1583.61 1254.33 L1595.23 1254.49 L1606.84 1254.66 L1618.45 1254.81 L1630.07 1254.95 L1641.68 1255.09 L1653.3 1255.22" stroke="#B177DE" stroke-width="2.6" fill="none" stroke-linejoin="round" stroke-linecap="square"/>
<path d="M259.5 273.66 L265.31 289.02 L271.12 304.12 L276.92 318.98 L282.73 333.6 L288.54 347.98 L294.35 362.12 L300.15 376.04 L305.96 389.73 L311.77 403.2 L317.57 416.45 L323.38 429.48 L329.19 442.3 L335 454.91 L340.81 467.32 L346.61 479.53 L352.42 491.53 L358.23 503.35 L364.03 514.97 L369.84 526.4 L375.65 537.64 L381.46 548.71 L387.26 559.59 L393.07 570.29 L398.88 580.83 L404.69 591.19 L410.5 601.38 L416.3 611.41 L422.11 621.27 L427.92 630.97 L433.73 640.52 L439.53 649.91 L445.34 659.14 L451.15 668.23 L456.96 677.17 L462.76 685.96 L468.57 694.62 L474.38 703.13 L480.19 711.5 L485.99 719.73 L491.8 727.84 L497.61 735.81 L503.41 743.65 L509.22 751.36 L515.03 758.95 L520.84 766.41 L526.64 773.76 L532.45 780.98 L538.26 788.09 L544.07 795.08 L549.88 801.96 L555.68 808.72 L561.49 815.38 L567.3 821.92 L573.11 828.36 L578.91 834.7 L584.72 840.93 L590.53 847.06 L596.34 853.1 L602.14 859.03 L607.95 864.87 L613.76 870.61 L619.57 876.26 L625.37 881.82 L631.18 887.28 L636.99 892.66 L642.8 897.95 L648.6 903.16 L654.41 908.28 L660.22 913.31 L666.03 918.27 L671.83 923.14 L677.64 927.94 L683.45 932.66 L689.25 937.3 L695.06 941.86 L700.87 946.35 L706.68 950.77 L712.49 955.12 L718.29 959.39 L724.1 963.6 L735.72 971.8 L747.33 979.75 L758.94 987.43 L770.56 994.87 L782.17 1002.07 L793.79 1009.04 L805.4 1015.78 L817.02 1022.3 L828.63 1028.62 L840.25 1034.73 L851.87 1040.64 L863.48 1046.36 L875.1 1051.9 L886.71 1057.26 L898.33 1062.45 L909.94 1067.47 L921.56 1072.33 L933.17 1077.03 L944.78 1081.58 L956.4 1085.98 L968.01 1090.24 L979.63 1094.36 L991.25 1098.35 L1002.86 1102.21 L1014.48 1105.95 L1026.09 1109.57 L1037.7 1113.07 L1049.32 1116.45 L1060.93 1119.73 L1072.55 1122.9 L1084.16 1125.97 L1095.78 1128.94 L1107.39 1131.82 L1119.01 1134.6 L1130.62 1137.29 L1142.24 1139.9 L1153.86 1142.42 L1165.47 1144.86 L1177.09 1147.22 L1188.7 1149.51 L1200.32 1151.72 L1211.93 1153.86 L1223.55 1155.93 L1235.16 1157.93 L1246.78 1159.87 L1258.39 1161.75 L1270.01 1163.57 L1281.62 1165.32 L1293.24 1167.03 L1304.85 1168.67 L1316.46 1170.27 L1328.08 1171.81 L1339.69 1173.3 L1351.31 1174.74 L1362.92 1176.14 L1374.54 1177.49 L1386.15 1178.8 L1397.77 1180.07 L1409.38 1181.3 L1421 1182.48 L1432.62 1183.63 L1444.23 1184.74 L1455.85 1185.82 L1467.46 1186.86 L1479.08 1187.86 L1490.69 1188.84 L1502.31 1189.78 L1513.92 1190.69 L1525.54 1191.58 L1537.15 1192.43 L1548.77 1193.26 L1560.38 1194.06 L1572 1194.83 L1583.61 1195.58 L1595.23 1196.31 L1606.84 1197.01 L1618.45 1197.69 L1630.07 1198.35 L1641.68 1198.98 L1653.3 1199.6" stroke="#CC9900" stroke-width="2.6" fill="none" stroke-linejoin="round" stroke-linecap="square"/>
<path d="M259.5 373.25 L265.31 394.07 L271.12 414.4 L276.92 434.25 L282.73 453.64 L288.54 472.57 L294.35 491.06 L300.15 509.12 L305.96 526.76 L311.77 543.98 L317.57 560.8 L323.38 577.23 L329.19 593.27 L335 608.94 L340.81 624.24 L346.61 639.19 L352.42 653.78 L358.23 668.03 L364.03 681.95 L369.84 695.55 L375.65 708.82 L381.46 721.78 L387.26 734.45 L393.07 746.81 L398.88 758.89 L404.69 770.68 L410.5 782.2 L416.3 793.45 L422.11 804.43 L427.92 815.16 L433.73 825.64 L439.53 835.87 L445.34 845.86 L451.15 855.62 L456.96 865.15 L462.76 874.46 L468.57 883.55 L474.38 892.42 L480.19 901.09 L485.99 909.56 L491.8 917.83 L497.61 925.9 L503.41 933.79 L509.22 941.49 L515.03 949.01 L520.84 956.36 L526.64 963.53 L532.45 970.54 L538.26 977.38 L544.07 984.06 L549.88 990.59 L555.68 996.96 L561.49 1003.18 L567.3 1009.26 L573.11 1015.2 L578.91 1021 L584.72 1026.66 L590.53 1032.19 L596.34 1037.59 L602.14 1042.86 L607.95 1048.01 L613.76 1053.04 L619.57 1057.95 L625.37 1062.75 L631.18 1067.43 L636.99 1072.01 L642.8 1076.48 L648.6 1080.84 L654.41 1085.1 L660.22 1089.26 L666.03 1093.33 L671.83 1097.3 L677.64 1101.17 L683.45 1104.96 L689.25 1108.66 L695.06 1112.27 L700.87 1115.79 L706.68 1119.24 L712.49 1122.6 L718.29 1125.89 L724.1 1129.09 L735.72 1135.29 L747.33 1141.19 L758.94 1146.82 L770.56 1152.2 L782.17 1157.32 L793.79 1162.21 L805.4 1166.87 L817.02 1171.31 L828.63 1175.55 L840.25 1179.6 L851.87 1183.45 L863.48 1187.13 L875.1 1190.64 L886.71 1193.99 L898.33 1197.18 L909.94 1200.22 L921.56 1203.13 L933.17 1205.89 L944.78 1208.54 L956.4 1211.05 L968.01 1213.46 L979.63 1215.75 L991.25 1217.93 L1002.86 1220.02 L1014.48 1222 L1026.09 1223.9 L1037.7 1225.71 L1049.32 1227.43 L1060.93 1229.08 L1072.55 1230.65 L1084.16 1232.14 L1095.78 1233.57 L1107.39 1234.93 L1119.01 1236.23 L1130.62 1237.47 L1142.24 1238.65 L1153.86 1239.77 L1165.47 1240.85 L1177.09 1241.87 L1188.7 1242.85 L1200.32 1243.78 L1211.93 1244.67 L1223.55 1245.52 L1235.16 1246.33 L1246.78 1247.1 L1258.39 1247.83 L1270.01 1248.53 L1281.62 1249.2 L1293.24 1249.84 L1304.85 1250.45 L1316.46 1251.03 L1328.08 1251.58 L1339.69 1252.11 L1351.31 1252.62 L1362.92 1253.1 L1374.54 1253.55 L1386.15 1253.99 L1397.77 1254.41 L1409.38 1254.81 L1421 1255.18 L1432.62 1255.55 L1444.23 1255.89 L1455.85 1256.22 L1467.46 1256.53 L1479.08 1256.83 L1490.69 1257.12 L1502.31 1257.39 L1513.92 1257.65 L1525.54 1257.9 L1537.15 1258.13 L1548.77 1258.36 L1560.38 1258.57 L1572 1258.78 L1583.61 1258.97 L1595.23 1259.16 L1606.84 1259.34 L1618.45 1259.51 L1630.07 1259.67 L1641.68 1259.82 L1653.3 1259.97" stroke="#00CBCC" stroke-width="2.6" fill="none" stroke-linejoin="round" stroke-linecap="square"/>
</g>
<rect x="1044.5" y="31.8" width="737" height="601" fill="#fff" stroke="#000" stroke-width="2.8"/>
<rect x="1116.25" y="65" width="27.5" height="27" fill="#515151"/>
<text transform="translate(1226.3,102.8) scale(1,1)" font-size="69" word-spacing="3.5">Benzotriazole</text>
<circle cx="1130" cy="163.4" r="15.5" fill="#F14040"/>
<text transform="translate(1226.3,187.1) scale(1,1)" font-size="69" word-spacing="3.5">Sulfamethoxazole</text>
<polygon points="1112,258.6 1148,258.6 1130,226.8" fill="#1A6FDF"/>
<text transform="translate(1226.3,271.0) scale(1,1)" font-size="69" word-spacing="3.5">Bisphenol A</text>
<polygon points="1112,321.4 1148,321.4 1130,353.2" fill="#37AD6B"/>
<text transform="translate(1226.3,355.3) scale(1,1)" font-size="69" word-spacing="3.5">Diclofenac</text>
<polygon points="1110.6,417 1130,397.8 1149.4,417 1130,436.2" fill="#B177DE"/>
<text transform="translate(1226.3,440.0) scale(1,1.03)" font-size="69" word-spacing="3.5">Hg2+</text>
<polygon points="1108.5,501 1140.8,483 1140.8,519" fill="#CC9900"/>
<text transform="translate(1226.3,524.7) scale(1,1.04)" font-size="69" word-spacing="3.5">MIB</text>
<polygon points="1151.3,586 1119.3,568 1119.3,604" fill="#00CBCC"/>
<text transform="translate(1226.3,608.9) scale(1,1)" font-size="69" word-spacing="3.5">Geosmin</text>
<text transform="translate(259,1415) scale(1,1.04)" font-size="62.5" text-anchor="middle">0</text>
<text transform="translate(375.2,1415) scale(1,1.04)" font-size="62.5" text-anchor="middle">5</text>
<text transform="translate(491.4,1415) scale(1,1.04)" font-size="62.5" text-anchor="middle">10</text>
<text transform="translate(607.6,1415) scale(1,1.04)" font-size="62.5" text-anchor="middle">15</text>
<text transform="translate(723.8,1415) scale(1,1.04)" font-size="62.5" text-anchor="middle">20</text>
<text transform="translate(840,1415) scale(1,1.04)" font-size="62.5" text-anchor="middle">25</text>
<text transform="translate(956.2,1415) scale(1,1.04)" font-size="62.5" text-anchor="middle">30</text>
<text transform="translate(1072.4,1415) scale(1,1.04)" font-size="62.5" text-anchor="middle">35</text>
<text transform="translate(1188.6,1415) scale(1,1.04)" font-size="62.5" text-anchor="middle">40</text>
<text transform="translate(1304.8,1415) scale(1,1.04)" font-size="62.5" text-anchor="middle">45</text>
<text transform="translate(1421,1415) scale(1,1.04)" font-size="62.5" text-anchor="middle">50</text>
<text transform="translate(1537.2,1415) scale(1,1.04)" font-size="62.5" text-anchor="middle">55</text>
<text transform="translate(1653.4,1415) scale(1,1.04)" font-size="62.5" text-anchor="middle">60</text>
<text transform="translate(1769.6,1415) scale(1,1.04)" font-size="62.5" text-anchor="middle">65</text>
<text transform="translate(219.3,1344.1) scale(1,1.04)" font-size="62.5" text-anchor="end">0.0</text>
<text transform="translate(219.3,1222.33) scale(1,1.04)" font-size="62.5" text-anchor="end">0.1</text>
<text transform="translate(219.3,1100.56) scale(1,1.04)" font-size="62.5" text-anchor="end">0.2</text>
<text transform="translate(219.3,978.79) scale(1,1.04)" font-size="62.5" text-anchor="end">0.3</text>
<text transform="translate(219.3,857.02) scale(1,1.04)" font-size="62.5" text-anchor="end">0.4</text>
<text transform="translate(219.3,735.25) scale(1,1.04)" font-size="62.5" text-anchor="end">0.5</text>
<text transform="translate(219.3,613.48) scale(1,1.04)" font-size="62.5" text-anchor="end">0.6</text>
<text transform="translate(219.3,491.71) scale(1,1.04)" font-size="62.5" text-anchor="end">0.7</text>
<text transform="translate(219.3,369.94) scale(1,1.04)" font-size="62.5" text-anchor="end">0.8</text>
<text transform="translate(219.3,248.17) scale(1,1.04)" font-size="62.5" text-anchor="end">0.9</text>
<text transform="translate(219.3,126.4) scale(1,1.04)" font-size="62.5" text-anchor="end">1.0</text>
<text transform="translate(829,1529)" font-size="75.7">Time [min.]</text>
<text transform="translate(88,794) rotate(-90) scale(1,1.04)" font-size="74.5">C/C<tspan font-size="49" dy="18.5">0</tspan></text>
</svg></body></html>
